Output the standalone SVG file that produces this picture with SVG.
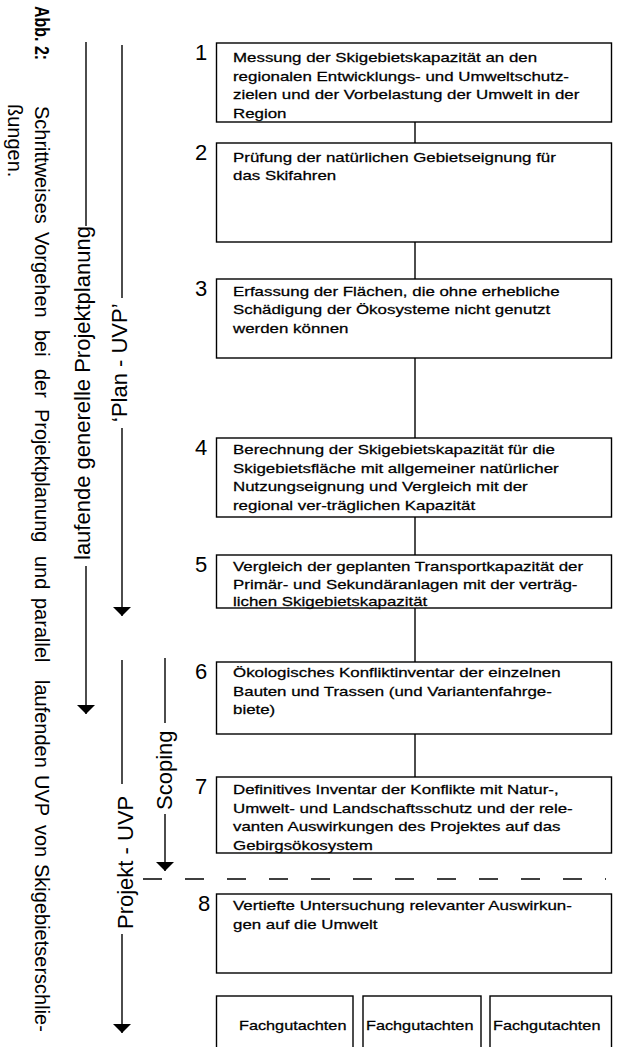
<svg xmlns="http://www.w3.org/2000/svg" width="618" height="1047" viewBox="0 0 618 1047">
<defs>
<style>
.box{fill:none;stroke:#000;stroke-width:1.4}
.ln{fill:none;stroke:#000;stroke-width:1.4}
.t{font-family:"Liberation Sans",Arial,sans-serif;font-size:13px;fill:#000;stroke:#000;stroke-width:0.25}
.num{font-family:"Liberation Sans",Arial,sans-serif;font-size:22px;fill:#000}
.lab{font-family:"Liberation Sans",Arial,sans-serif;font-size:22px;fill:#000}
.cap{font-family:"Liberation Sans",Arial,sans-serif;font-size:20px;fill:#000}
.capb{font-family:"Liberation Sans",Arial,sans-serif;font-size:16px;font-weight:bold;fill:#000}
</style>
<marker id="ah" viewBox="0 0 9 18" refX="9" refY="9" markerWidth="9" markerHeight="18" markerUnits="userSpaceOnUse" orient="auto">
<path d="M0,0 L9,9 L0,18 Z" fill="#000"/>
</marker>
</defs>
<rect width="618" height="1047" fill="#fff"/>

<g id="caption">
<text class="capb" transform="translate(35,0) rotate(90) scale(1,1.3)" x="6" y="0">Abb. 2:</text>
<text class="cap" transform="translate(35,0) rotate(90)" y="0"><tspan x="106">Schrittweises</tspan><tspan x="232">Vorgehen</tspan><tspan x="330">bei</tspan><tspan x="369">der</tspan><tspan x="409">Projektplanung</tspan><tspan x="556">und</tspan><tspan x="598">parallel</tspan><tspan x="680">laufenden</tspan><tspan x="775">UVP</tspan><tspan x="825">von</tspan><tspan x="864">Skigebietserschlie-</tspan></text>
<text class="cap" transform="translate(35,0) rotate(90)" x="104" y="27">ßungen.</text>
</g>

<g id="connectors">
<line class="ln" x1="415" y1="122" x2="415" y2="143"/>
<line class="ln" x1="415" y1="242" x2="415" y2="279"/>
<line class="ln" x1="415" y1="358" x2="415" y2="438"/>
<line class="ln" x1="415" y1="517" x2="415" y2="555"/>
<line class="ln" x1="415" y1="608" x2="415" y2="662"/>
<line class="ln" x1="415" y1="734" x2="415" y2="777"/>
<line class="ln" x1="143" y1="879" x2="606" y2="879" stroke-dasharray="19 23"/>
<line class="ln" x1="86" y1="42" x2="86" y2="226"/>
<line class="ln" x1="86" y1="566" x2="86" y2="714" marker-end="url(#ah)"/>
<line class="ln" x1="122" y1="45" x2="122" y2="298"/>
<line class="ln" x1="122" y1="428" x2="122" y2="616" marker-end="url(#ah)"/>
<line class="ln" x1="122" y1="660" x2="122" y2="784"/>
<line class="ln" x1="122" y1="934" x2="122" y2="1033" marker-end="url(#ah)"/>
<line class="ln" x1="165" y1="658" x2="165" y2="723"/>
<line class="ln" x1="165" y1="814" x2="165" y2="871" marker-end="url(#ah)"/>
</g>

<g id="labels">
<text class="lab" transform="translate(90,560) rotate(-90)">laufende generelle Projektplanung</text>
<text class="lab" transform="translate(127,422) rotate(-90)">‘Plan - UVP’</text>
<text class="lab" transform="translate(133,929) rotate(-90)">Projekt - UVP</text>
<text class="lab" transform="translate(172,810) rotate(-90)">Scoping</text>
</g>

<g id="node1">
<rect class="box" x="216.5" y="43" width="395" height="79"/>
<text class="num" x="195" y="59.5">1</text>
<text class="t" transform="translate(233,0) scale(1.3,1)"><tspan x="0" y="62.5">Messung der Skigebietskapazität an den</tspan><tspan x="0" y="81">regionalen Entwicklungs- und Umweltschutz-</tspan><tspan x="0" y="99.5">zielen und der Vorbelastung der Umwelt in der</tspan><tspan x="0" y="118">Region</tspan></text>
</g>

<g id="node2">
<rect class="box" x="216.5" y="143" width="395" height="99"/>
<text class="num" x="195" y="159.5">2</text>
<text class="t" transform="translate(233,0) scale(1.3,1)"><tspan x="0" y="162">Prüfung der natürlichen Gebietseignung für</tspan><tspan x="0" y="180.5">das Skifahren</tspan></text>
</g>

<g id="node3">
<rect class="box" x="216.5" y="279" width="395" height="79"/>
<text class="num" x="195" y="295.5">3</text>
<text class="t" transform="translate(233,0) scale(1.3,1)"><tspan x="0" y="296">Erfassung der Flächen, die ohne erhebliche</tspan><tspan x="0" y="314.5">Schädigung der Ökosysteme nicht genutzt</tspan><tspan x="0" y="333">werden können</tspan></text>
</g>

<g id="node4">
<rect class="box" x="216.5" y="438" width="395" height="79"/>
<text class="num" x="195" y="454.5">4</text>
<text class="t" transform="translate(233,0) scale(1.3,1)"><tspan x="0" y="454.5">Berechnung der Skigebietskapazität für die</tspan><tspan x="0" y="473">Skigebietsfläche mit allgemeiner natürlicher</tspan><tspan x="0" y="491.5">Nutzungseignung und Vergleich mit der</tspan><tspan x="0" y="510">regional ver-träglichen Kapazität</tspan></text>
</g>

<g id="node5">
<rect class="box" x="216.5" y="555" width="395" height="53"/>
<text class="num" x="195" y="571.5">5</text>
<text class="t" transform="translate(233,0) scale(1.3,1)"><tspan x="0" y="571">Vergleich der geplanten Transportkapazität der</tspan><tspan x="0" y="589">Primär- und Sekundäranlagen mit der verträg-</tspan><tspan x="0" y="606.5">lichen Skigebietskapazität</tspan></text>
</g>

<g id="node6">
<rect class="box" x="216.5" y="662" width="395" height="72"/>
<text class="num" x="195" y="678.5">6</text>
<text class="t" transform="translate(233,0) scale(1.3,1)"><tspan x="0" y="677.5">Ökologisches Konfliktinventar der einzelnen</tspan><tspan x="0" y="696">Bauten und Trassen (und Variantenfahrge-</tspan><tspan x="0" y="714">biete)</tspan></text>
</g>

<g id="node7">
<rect class="box" x="216.5" y="777" width="395" height="76"/>
<text class="num" x="195" y="793.5">7</text>
<text class="t" transform="translate(233,0) scale(1.3,1)"><tspan x="0" y="794">Definitives Inventar der Konflikte mit Natur-,</tspan><tspan x="0" y="813">Umwelt- und Landschaftsschutz und der rele-</tspan><tspan x="0" y="831.5">vanten Auswirkungen des Projektes auf das</tspan><tspan x="0" y="850">Gebirgsökosystem</tspan></text>
</g>

<g id="node8">
<rect class="box" x="216.5" y="894" width="395" height="79"/>
<text class="num" x="198" y="910.5">8</text>
<text class="t" transform="translate(233,0) scale(1.3,1)"><tspan x="0" y="910.5">Vertiefte Untersuchung relevanter Auswirkun-</tspan><tspan x="0" y="929">gen auf die Umwelt</tspan></text>
</g>

<g id="fach1">
<rect class="box" x="216.5" y="996" width="136.5" height="60"/>
<text class="t" transform="translate(239,0) scale(1.25,1)" x="0" y="1030">Fachgutachten</text>
</g>
<g id="fach2">
<rect class="box" x="363" y="996" width="118" height="60"/>
<text class="t" transform="translate(366,0) scale(1.25,1)" x="0" y="1030">Fachgutachten</text>
</g>
<g id="fach3">
<rect class="box" x="490" y="996" width="121.5" height="60"/>
<text class="t" transform="translate(493,0) scale(1.25,1)" x="0" y="1030">Fachgutachten</text>
</g>
</svg>
